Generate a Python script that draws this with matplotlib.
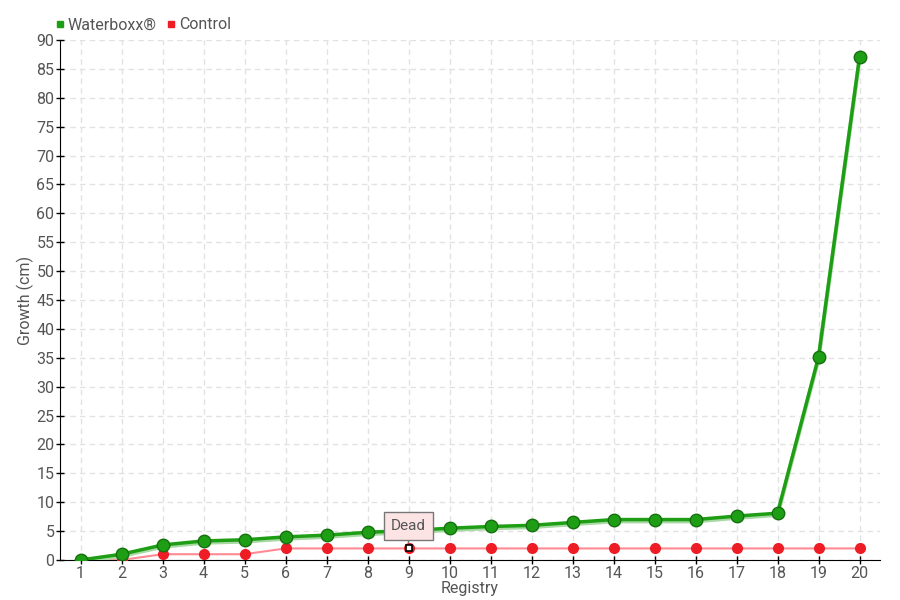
import matplotlib.pyplot as plt
from matplotlib.lines import Line2D

plt.rcParams['font.family'] = ['Roboto', 'DejaVu Sans']

registry = list(range(1, 21))
waterboxx = [0, 1.0, 2.6, 3.3, 3.5, 4.0, 4.3, 4.8, 5.1, 5.5,
             5.8, 6.0, 6.5, 7.0, 7.0, 7.0, 7.6, 8.1, 35.1, 87.0]
control = [0, 0, 1, 1, 1, 2, 2, 2, 2, 2,
           2, 2, 2, 2, 2, 2, 2, 2, 2, 2]
dead_index = 8  # registry 9

green = '#1e9e14'
red = '#ee1c25'
txt = '#555555'

fig = plt.figure(figsize=(9, 6), dpi=100)
ax = fig.add_axes([60 / 900, 40 / 600, 820 / 900, 520 / 600])

ax.grid(True, color='#e2e2e2', linestyle=(0, (4, 3)), linewidth=1)
ax.set_axisbelow(True)

# control series
ax.plot(registry, control, color='#ff8a94', linewidth=1.5, zorder=3)
ax.plot(registry, control, linestyle='none', marker='o', markersize=7,
        markerfacecolor=red, markeredgecolor=red, zorder=4)

# waterboxx series with a faint shadow
ax.plot(registry, [v - 0.3 for v in waterboxx], color='#a8d9a4', linewidth=3, zorder=4)
ax.plot(registry, waterboxx, color=green, linewidth=2.5, zorder=5)
ax.plot(registry, waterboxx, linestyle='none', marker='o', markersize=9,
        markerfacecolor=green, markeredgecolor='#16700f', markeredgewidth=1, zorder=6)

# dead marker + tooltip
ax.plot(registry[dead_index], control[dead_index], marker='s', markersize=5,
        markerfacecolor='white', markeredgecolor='black', markeredgewidth=1.2, zorder=8)
ax.annotate('Dead', xy=(registry[dead_index], control[dead_index]),
            xytext=(0, 16), textcoords='offset points', ha='center', va='center',
            fontsize=11, color=txt, zorder=9,
            bbox=dict(boxstyle='square,pad=0.45', fc='#fde4e4', ec='#777777', lw=1),
            arrowprops=dict(arrowstyle='-', color='#777777', lw=1, shrinkA=0, shrinkB=4))

ax.set_xlim(0.5, 20.5)
ax.set_ylim(0, 90)
ax.set_xticks(registry)
ax.set_yticks(range(0, 91, 5))
ax.tick_params(axis='both', direction='inout', length=6, width=1,
               labelsize=11.5, labelcolor=txt, color='black', pad=1)
for s in ['top', 'right']:
    ax.spines[s].set_visible(False)
ax.spines['left'].set_color('black')
ax.spines['bottom'].set_color('black')

ax.set_xlabel('Registry', fontsize=11.5, color=txt, labelpad=0)
ax.set_ylabel('Growth (cm)', fontsize=11.5, color=txt, labelpad=2)

handles = [Line2D([], [], linestyle='none', marker='s', markersize=5,
                  markerfacecolor=green, markeredgecolor=green),
           Line2D([], [], linestyle='none', marker='s', markersize=5,
                  markerfacecolor=red, markeredgecolor=red)]
fig.legend(handles, ['Waterboxx®', 'Control'], loc='upper left',
           bbox_to_anchor=(0.045, 0.995), ncol=2, frameon=False,
           fontsize=11.5, labelcolor=txt, handlelength=0.6, handletextpad=0.2,
           columnspacing=0.6)

fig.savefig('out.png', dpi=100)
